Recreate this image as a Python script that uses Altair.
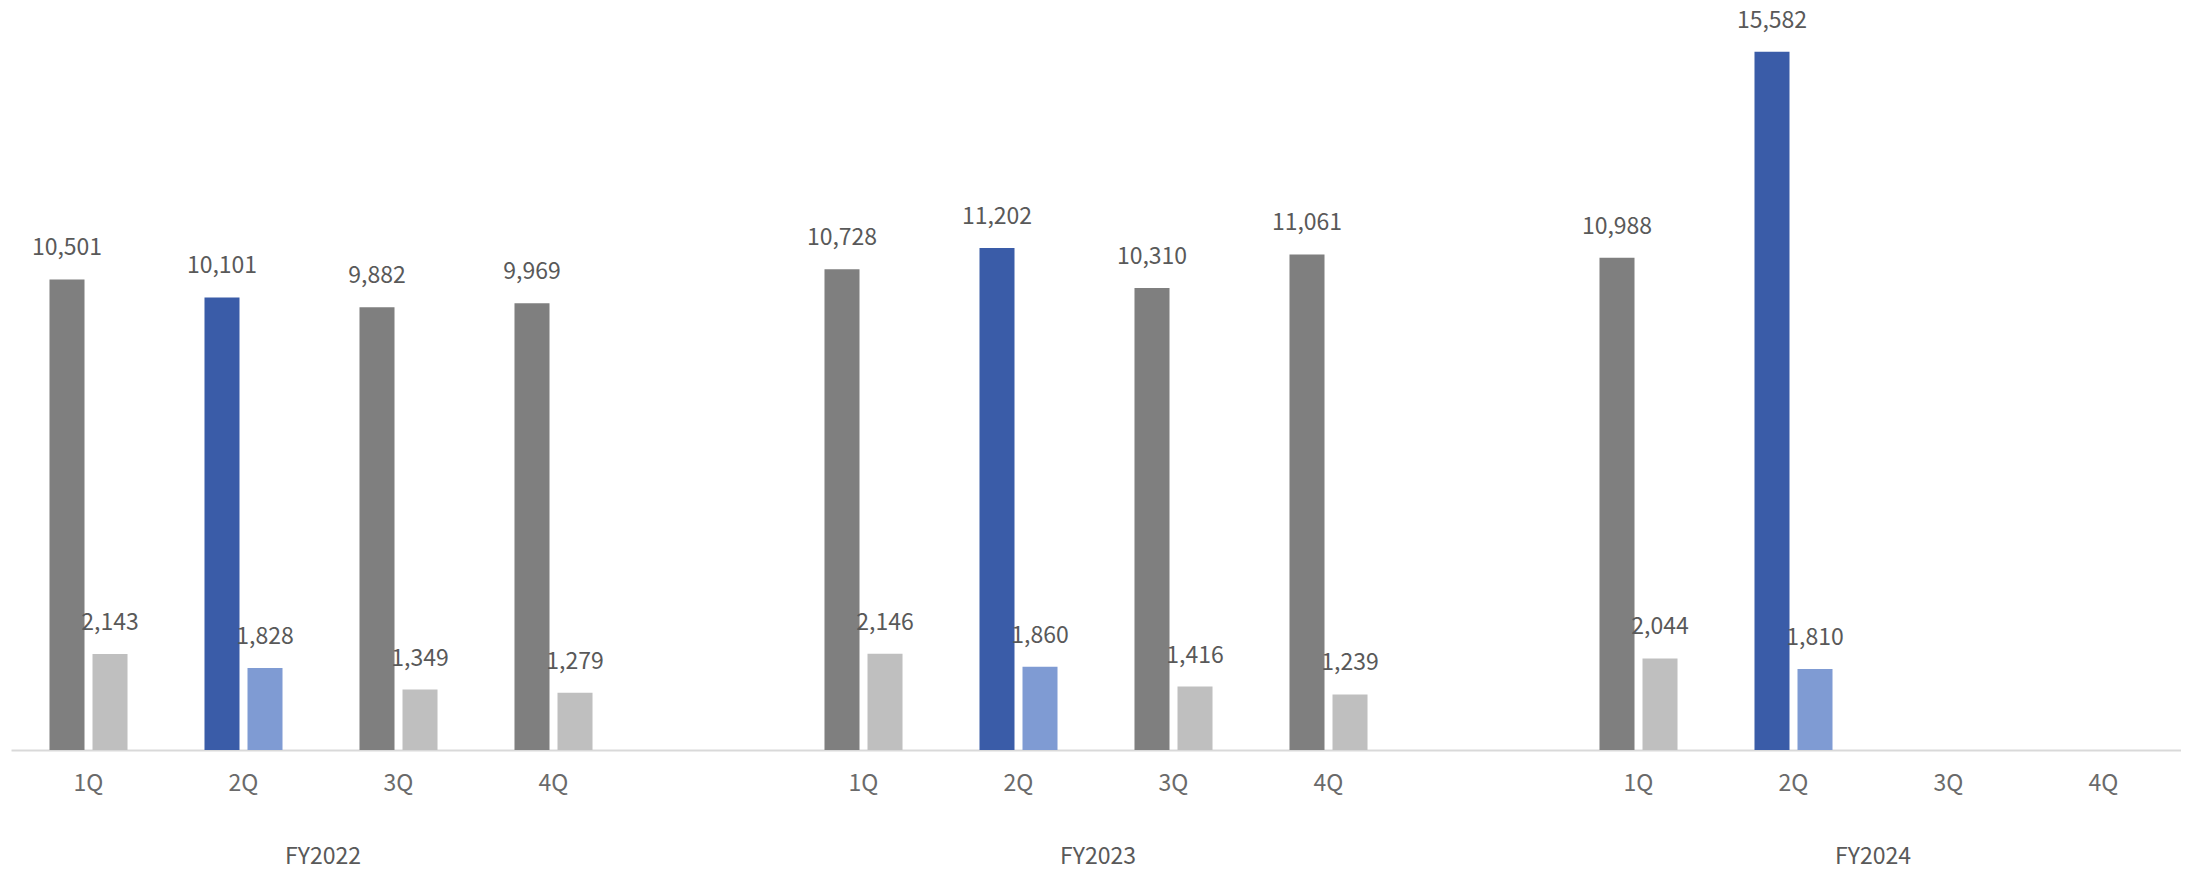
import altair as alt
import pandas as pd

# ---- data ----
years = ["FY2022", "FY2023", "FY2024"]
quarters = ["1Q", "2Q", "3Q", "4Q"]
main_values = [
    [10501, 10101, 9882, 9969],   # FY2022
    [10728, 11202, 10310, 11061], # FY2023
    [10988, 15582],               # FY2024
]
sub_values = [
    [2143, 1828, 1349, 1279],
    [2146, 1860, 1416, 1239],
    [2044, 1810],
]
highlight_quarter = "2Q"
series_names = ["main", "sub"]

# ---- build table ----
slots = []
for i, y in enumerate(years):
    slots += [f"{y} {q}" for q in quarters]
    if i < len(years) - 1:
        slots.append(f"gap{i}")

rows = []
for y, mv, sv in zip(years, main_values, sub_values):
    for q, m in zip(quarters, mv):
        rows.append({"slot": f"{y} {q}", "series": "main", "value": m,
                     "key": "main_hl" if q == highlight_quarter else "main"})
    for q, s in zip(quarters, sv):
        rows.append({"slot": f"{y} {q}", "series": "sub", "value": s,
                     "key": "sub_hl" if q == highlight_quarter else "sub"})
df = pd.DataFrame(rows)

fy_df = pd.DataFrame({"slot": [f"{y} 3Q" for y in years], "year": years})

FONT = "Noto Sans CJK JP"

x_axis = alt.Axis(
    title=None,
    labelExpr="indexof(datum.value, 'gap') == 0 ? '' : split(datum.value, ' ')[1]",
    labelAngle=0,
    labelFont=FONT,
    labelFontSize=23,
    labelColor="#6a6a6a",
    labelPadding=40,
    labelBaseline="alphabetic",
    ticks=False,
    grid=False,
    domainColor="#D9D9D9",
    domainWidth=2,
    labelOverlap=False,
)
x_scale = alt.Scale(domain=slots, paddingInner=0, paddingOuter=0)

x_enc = alt.X("slot:N", sort=None, scale=x_scale, axis=x_axis)
xoff_enc = alt.XOffset(
    "series:N",
    scale=alt.Scale(domain=series_names, paddingInner=0.186, paddingOuter=0.895),
)
y_enc = alt.Y("value:Q", scale=alt.Scale(domain=[0, 16560]), axis=None)

base = alt.Chart(df).encode(x=x_enc, xOffset=xoff_enc, y=y_enc)

bars = base.mark_bar().encode(
    color=alt.Color(
        "key:N",
        scale=alt.Scale(
            domain=["main", "sub", "main_hl", "sub_hl"],
            range=["#7F7F7F", "#BFBFBF", "#3A5CA8", "#7F9BD3"],
        ),
        legend=None,
    )
)

labels = base.mark_text(
    baseline="alphabetic", dy=-24, font=FONT, fontSize=23, color="#595959"
).encode(text=alt.Text("value:Q", format=","))

fy_labels = alt.Chart(fy_df).mark_text(
    baseline="alphabetic", dx=2, font=FONT, fontSize=23, color="#595959"
).encode(
    x=alt.X("slot:N", bandPosition=0, sort=None, scale=x_scale, axis=x_axis),
    y=alt.value(856),
    text="year:N",
)

chart = (
    alt.layer(bars, labels, fy_labels)
    .properties(
        width=2170,
        height=742,
        padding={"left": 3, "top": 0, "right": 0, "bottom": 124},
        autosize=alt.AutoSizeParams(type="none"),
        background="white",
    )
    .configure_view(stroke=None)
)

chart.save("out.html", embed_options={"renderer": "svg", "actions": False})
